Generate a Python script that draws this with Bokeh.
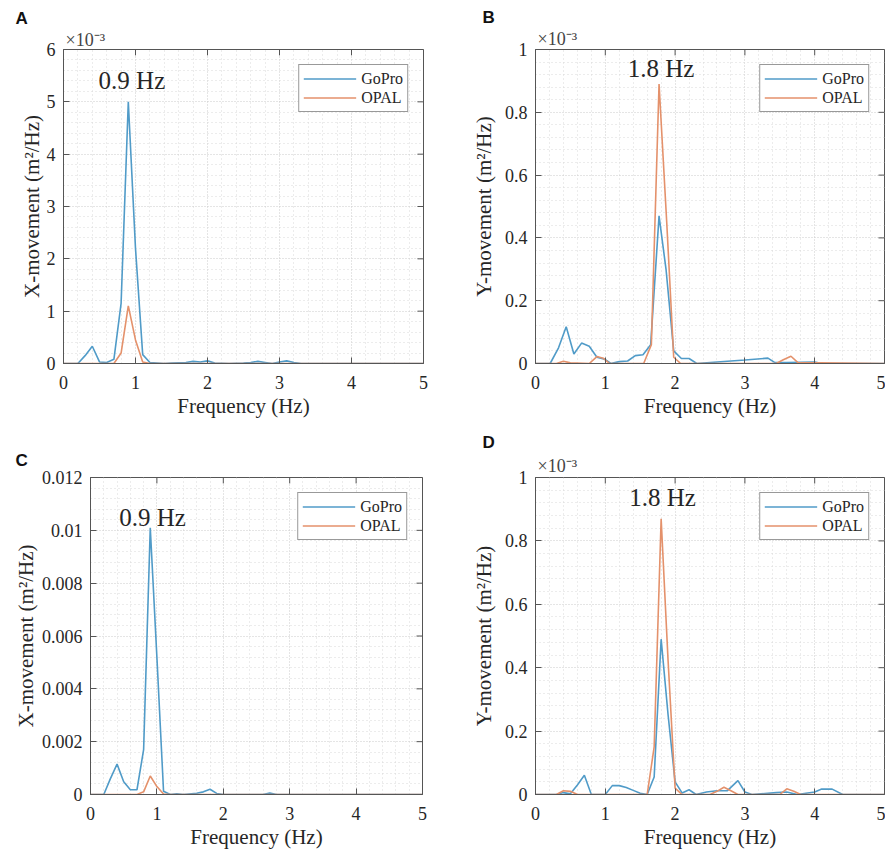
from bokeh.plotting import figure
from bokeh.models import Range1d, FixedTicker, Label, Legend, LegendItem, Title, CustomJSTickFormatter
from bokeh.layouts import column, row
from bokeh.embed import file_html
from bokeh.resources import INLINE

# ---------------- data ----------------
x_ticks = [0, 1, 2, 3, 4, 5]
x_tick_labels = ["0", "1", "2", "3", "4", "5"]

# Panel A  (values in units of 1e-3 m^2/Hz)
a_gopro_f = [0, 0.2, 0.3, 0.4, 0.5, 0.6, 0.7, 0.8, 0.9, 1.0, 1.1, 1.2, 1.4, 1.5, 1.7, 1.8, 1.9, 2.0, 2.1,
             2.3, 2.5, 2.6, 2.7, 2.8, 2.9, 3.0, 3.1, 3.2, 3.3, 5.0]
a_gopro_v = [0, 0, 0.15, 0.33, 0.03, 0.02, 0.08, 1.15, 5.0, 2.2, 0.17, 0.02, 0.0, 0.01, 0.02, 0.04, 0.03,
             0.05, 0.01, 0.0, 0.01, 0.02, 0.04, 0.02, 0.0, 0.03, 0.05, 0.02, 0.0, 0.0]
a_opal_f = [0, 0.7, 0.8, 0.9, 1.0, 1.1, 1.2, 5.0]
a_opal_v = [0, 0, 0.2, 1.1, 0.45, 0.03, 0, 0]
a_yticks = [0, 1, 2, 3, 4, 5, 6]
a_ylabels = ["0", "1", "2", "3", "4", "5", "6"]

# Panel B  (values in units of 1e-3 m^2/Hz)
b_gopro_f = [0, 0.21, 0.33, 0.44, 0.55, 0.66, 0.77, 0.88, 0.99, 1.08, 1.2, 1.32, 1.43, 1.54, 1.65, 1.77,
             1.87, 1.98, 2.09, 2.2, 2.31, 2.8, 3.0, 3.33, 3.43, 3.6, 4.0, 4.1, 5.0]
b_gopro_v = [0, 0, 0.05, 0.117, 0.03, 0.065, 0.055, 0.02, 0.014, 0, 0.006, 0.008, 0.025, 0.028, 0.06, 0.47,
             0.30, 0.04, 0.016, 0.016, 0, 0.008, 0.011, 0.017, 0.003, 0.003, 0.005, 0, 0]
b_opal_f = [0, 0.3, 0.4, 0.5, 0.77, 0.88, 0.97, 1.06, 1.55, 1.66, 1.77, 1.88, 1.98, 2.08, 3.45, 3.55, 3.66,
            3.76, 5.0]
b_opal_v = [0, 0, 0.007, 0.002, 0.0, 0.022, 0.017, 0, 0, 0.06, 0.89, 0.45, 0.02, 0, 0, 0.012, 0.023, 0.003, 0]
b_yticks = [0, 0.2, 0.4, 0.6, 0.8, 1.0]
b_ylabels = ["0", "0.2", "0.4", "0.6", "0.8", "1"]

# Panel C  (values in m^2/Hz)
c_gopro_f = [0, 0.2, 0.3, 0.4, 0.5, 0.6, 0.7, 0.8, 0.9, 1.0, 1.1, 1.2, 1.3, 1.4, 1.6, 1.7, 1.8, 1.9, 2.0,
             2.6, 2.7, 2.8, 5.0]
c_gopro_v = [0, 0, 0.0006, 0.00115, 0.00048, 0.00018, 0.00018, 0.0017, 0.0101, 0.0052, 0.00012, 0,
             0.00003, 0, 0.00005, 0.0001, 0.0002, 0.00004, 0, 0, 0.00006, 0, 0]
c_opal_f = [0, 0.7, 0.8, 0.9, 1.0, 1.1, 1.2, 5.0]
c_opal_v = [0, 0, 0.0001, 0.0007, 0.0003, 0.00002, 0, 0]
c_yticks = [0, 0.002, 0.004, 0.006, 0.008, 0.01, 0.012]
c_ylabels = ["0", "0.002", "0.004", "0.006", "0.008", "0.01", "0.012"]

# Panel D  (values in units of 1e-3 m^2/Hz)
d_gopro_f = [0, 0.3, 0.4, 0.5, 0.6, 0.7, 0.8, 1.0, 1.1, 1.2, 1.3, 1.4, 1.5, 1.6, 1.7, 1.8, 1.9, 2.0, 2.1,
             2.2, 2.3, 2.45, 2.6, 2.75, 2.9, 3.0, 3.1, 3.45, 3.6, 3.75, 4.0, 4.1, 4.25, 4.4, 5.0]
d_gopro_v = [0, 0, 0.006, 0.002, 0.03, 0.061, 0, 0, 0.028, 0.028, 0.022, 0.013, 0.004, 0, 0.055, 0.49,
             0.25, 0.04, 0.005, 0.015, 0, 0.008, 0.012, 0.012, 0.044, 0.008, 0, 0.006, 0.008, 0, 0.008,
             0.017, 0.017, 0, 0]
d_opal_f = [0, 0.3, 0.4, 0.5, 0.6, 1.6, 1.7, 1.8, 1.9, 2.0, 2.1, 2.5, 2.6, 2.7, 2.8, 2.9, 3.5, 3.6, 3.7,
            3.8, 5.0]
d_opal_v = [0, 0, 0.012, 0.01, 0, 0, 0.15, 0.87, 0.42, 0.02, 0, 0, 0.01, 0.023, 0.012, 0, 0, 0.018, 0.01,
            0, 0]
d_yticks = b_yticks
d_ylabels = b_ylabels

series_names = ["GoPro", "OPAL"]

# ---------------- style ----------------
SERIF = "Liberation Serif"
SANS = "Liberation Sans"
BLUE = "#509bc8"
ORANGE = "#e4916b"
TXT = "#262626"
AX = "#555555"
TICK_LEN = 6


def minor_list(ticks, n=5):
    out = []
    for a, b in zip(ticks[:-1], ticks[1:]):
        step = (b - a) / n
        for k in range(1, n):
            out.append(a + k * step)
    return out


def formatter(tick_values, tick_labels):
    return CustomJSTickFormatter(args=dict(tvals=tick_values, tlabels=tick_labels), code="""
        for (let i = 0; i < tvals.length; i++) {
            if (Math.abs(tvals[i] - tick) <= 1e-9 * Math.max(1e-3, Math.abs(tvals[i]))) return tlabels[i];
        }
        return "";
    """)


def make_panel(width, height, borders, ymax, yticks, ylabels, ylabel, gf, gv, of, ov,
               peak_text, peak_x, peak_y, scale_text, scale_standoff, letter, letter_offset,
               letter_standoff, ylab_standoff):
    left, right, top, bottom = borders
    fw = width - left - right
    fh = height - top - bottom
    p = figure(width=width, height=height, output_backend="svg", toolbar_location=None,
               x_range=Range1d(0, 5), y_range=Range1d(0, ymax),
               min_border_left=left, min_border_right=right,
               min_border_top=top, min_border_bottom=bottom,
               x_axis_label="Frequency (Hz)", y_axis_label=ylabel)
    p.background_fill_color = "white"
    p.border_fill_color = "white"
    p.outline_line_color = AX
    p.outline_line_width = 1

    p.xaxis.ticker = FixedTicker(ticks=x_ticks, minor_ticks=minor_list(x_ticks))
    p.yaxis.ticker = FixedTicker(ticks=yticks, minor_ticks=minor_list(yticks))
    p.xaxis.formatter = formatter(x_ticks, x_tick_labels)
    p.yaxis.formatter = formatter(yticks, ylabels)

    for ax in (p.xaxis, p.yaxis):
        ax.axis_line_color = AX
        ax.major_tick_line_color = AX
        ax.major_tick_in = TICK_LEN
        ax.major_tick_out = 0
        ax.minor_tick_in = 0
        ax.minor_tick_out = 0
        ax.major_label_text_font = SERIF
        ax.major_label_text_font_size = "18px"
        ax.major_label_text_color = TXT
        ax.axis_label_text_font = SERIF
        ax.axis_label_text_font_size = "21px"
        ax.axis_label_text_font_style = "normal"
        ax.axis_label_text_color = TXT
    p.xaxis.major_label_standoff = 12
    p.xaxis.axis_label_standoff = 2
    p.yaxis.major_label_standoff = 8
    p.yaxis.axis_label_standoff = ylab_standoff

    # box ticks on the top and right edges (inward)
    p.segment(x0=x_ticks, y0=[ymax] * len(x_ticks), x1=x_ticks,
              y1=[ymax - TICK_LEN * ymax / fh] * len(x_ticks), line_color=AX, line_width=1)
    p.segment(x0=[5] * len(yticks), y0=yticks, x1=[5 - TICK_LEN * 5 / fw] * len(yticks), y1=yticks,
              line_color=AX, line_width=1)

    p.grid.grid_line_color = "#cbcbcb"
    p.grid.grid_line_dash = "1 2"
    p.grid.grid_line_width = 1
    p.grid.minor_grid_line_color = "#d9d9d9"
    p.grid.minor_grid_line_dash = "1 3"
    p.grid.minor_grid_line_width = 1

    r1 = p.line(gf, gv, line_color=BLUE, line_width=1.6)
    r2 = p.line(of, ov, line_color=ORANGE, line_width=1.6)

    legend = Legend(items=[LegendItem(label=series_names[0], renderers=[r1]),
                           LegendItem(label=series_names[1], renderers=[r2])],
                    location="top_right")
    legend.label_text_font = SERIF
    legend.label_text_font_size = "16px"
    legend.label_text_color = TXT
    legend.glyph_width = 53
    legend.glyph_height = 19
    legend.label_height = 19
    legend.label_standoff = 5
    legend.padding = 4
    legend.spacing = 0
    legend.margin = 15
    legend.border_line_color = "#333333"
    legend.border_line_width = 1
    legend.background_fill_alpha = 1
    p.add_layout(legend)

    p.add_layout(Label(x=peak_x, y=peak_y, text=peak_text, text_font=SERIF, text_font_size="25px",
                       text_align="center", text_baseline="alphabetic", text_color=TXT))
    if scale_text:
        p.add_layout(Title(text=scale_text, align="left", offset=2, standoff=scale_standoff,
                           text_font=SERIF, text_font_size="18px", text_font_style="normal",
                           text_color="#444444"), "above")
    p.add_layout(Title(text=letter, align="left", offset=letter_offset, standoff=letter_standoff,
                       text_font=SANS, text_font_size="17px", text_font_style="bold",
                       text_color="#111111"), "above")
    return p


pA = make_panel(440, 420, (63, 17, 48, 51), 6, a_yticks, a_ylabels, "X-movement (m²/Hz)",
                a_gopro_f, a_gopro_v, a_opal_f, a_opal_v, "0.9 Hz", 0.95, 5.40,
                "×10⁻³", 0, "A", -48, 0, 0)
pB = make_panel(445, 420, (95, 1, 49, 51), 1, b_yticks, b_ylabels, "Y-movement (m²/Hz)",
                b_gopro_f, b_gopro_v, b_opal_f, b_opal_v, "1.8 Hz", 1.80, 0.94,
                "×10⁻³", 1, "B", -53, 0, 6)
pC = make_panel(440, 433, (90, 18, 53, 59), 0.012, c_yticks, c_ylabels, "X-movement (m²/Hz)",
                c_gopro_f, c_gopro_v, c_opal_f, c_opal_v, "0.9 Hz", 0.934, 0.0105,
                None, 0, "C", -75, 16, 1)
pD = make_panel(445, 433, (95, 1, 57, 59), 1, d_yticks, d_ylabels, "Y-movement (m²/Hz)",
                d_gopro_f, d_gopro_v, d_opal_f, d_opal_v, "1.8 Hz", 1.82, 0.937,
                "×10⁻³", 4, "D", -53, 0, 6)

layout = column(row(pA, pB), row(pC, pD))
open("out.html", "w").write(file_html(layout, INLINE))
